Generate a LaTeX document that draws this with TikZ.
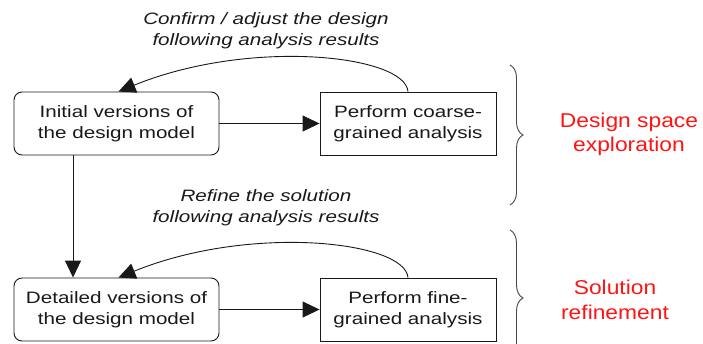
\documentclass[tikz,border=0pt]{standalone}
\usepackage{fontspec}
\setmainfont[FakeStretch=1.25]{Liberation Sans}
\newfontfamily\phasefont[FakeStretch=1.14]{Liberation Sans}
\usetikzlibrary{arrows.meta,decorations.pathreplacing}
\definecolor{ink}{RGB}{25,25,25}
\definecolor{note}{RGB}{255,20,20}
\tikzset{
  stagebox/.style={draw=ink, line width=0.9pt, minimum height=63pt, inner sep=0pt,
    align=center, text=ink, font=\fontsize{16.5}{20.5}\selectfont},
  modelbox/.style={stagebox, rounded corners=8pt, minimum width=205pt},
  taskbox/.style={stagebox, minimum width=176pt},
  looplabel/.style={align=center, text=ink, font=\fontsize{16.5}{21}\selectfont\itshape},
  phaselabel/.style={align=center, text=note, font=\phasefont\fontsize{20}{24.5}\selectfont},
  flow/.style={draw=ink, line width=0.9pt, -{Triangle[length=17pt,width=16pt]}},
  phasebrace/.style={draw=ink!80, line width=0.9pt,
    decorate, decoration={brace, amplitude=13pt}}
}
\begin{document}
\begin{tikzpicture}[x=1pt,y=-1pt]
  \useasboundingbox (0,0) rectangle (703,343);
  \clip (0,0) rectangle (703,343);

  % stage boxes
  \node[modelbox] (b1) at (116.5,123.5) {Initial versions of\\the design model};
  \node[taskbox]  (b2) at (408,123.5)   {Perform coarse-\\grained analysis};
  \node[modelbox] (b3) at (116.5,309.5) {Detailed versions of\\the design model};
  \node[taskbox]  (b4) at (408,309.5)   {Perform fine-\\grained analysis};

  % feedback labels
  \node[looplabel] (lab1) at (266,30.5)  {Confirm / adjust the design\\following analysis results};
  \node[looplabel] (lab2) at (266,207.5) {Refine the solution\\following analysis results};

  % phase labels
  \node[phaselabel] (red1) at (629,134.5) {Design space\\exploration};
  \node[phaselabel] (red2) at (615,300)   {Solution\\refinement};

  % forward flow
  \draw[flow] (b1.east) -- (b2.west);
  \draw[flow] (b3.east) -- (b4.west);
  \draw[flow] ([xshift=-43.5pt]b1.south) -- ([xshift=-43.5pt]b3.north);

  % feedback loops
  \draw[flow] (b2.north) .. controls (405,55) and (250,38) .. ([xshift=2pt]b1.north);
  \draw[flow] (b4.north) .. controls (405,241) and (250,224) .. ([xshift=2pt]b3.north);

  % phase braces
  \draw[phasebrace] (510,65) -- (510,205);
  \draw[phasebrace] (510,230) -- (510,366);
\end{tikzpicture}
\end{document}
